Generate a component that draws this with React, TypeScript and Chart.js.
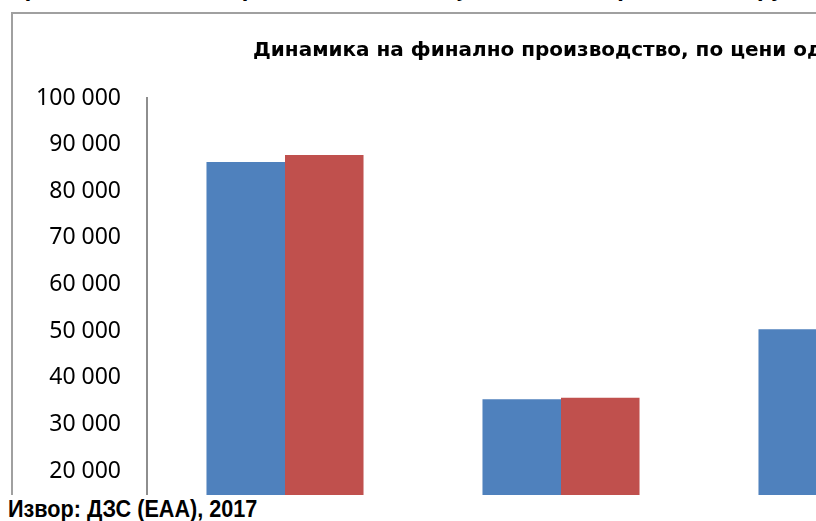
import React, { useEffect, useRef } from "react";
import { Chart, registerables } from "chart.js";

Chart.register(...registerables);

// ---- data ----
const categories = ["Вкупно", "Сточарство", "Растително производство"];
const seriesLabels = ["2015", "2016"];
const seriesA = [86300, 35400, 50400];
const seriesB = [87800, 35700, 52100];
const yMin = 0;
const yMax = 100000;
const yStep = 10000;
const titleText = "Динамика на финално производство, по цени од претходната година (милиони денари)";
const sourceText = "Извор: ДЗС (ЕАА), 2017";
const topLineText = "Графикон 2: Финално производство во земјоделството, вредност по групи, споредба";

const fmt = (v: number) => String(v).replace(/\B(?=(\d{3})+(?!\d))/g, " ");

export default function App() {
  const ref = useRef<HTMLCanvasElement | null>(null);

  useEffect(() => {
    if (!ref.current) return;
    const chart = new Chart(ref.current, {
      type: "bar",
      data: {
        labels: categories,
        datasets: [
          {
            label: seriesLabels[0],
            data: seriesA,
            backgroundColor: "#4F81BD",
            categoryPercentage: 0.569,
            barPercentage: 1,
          },
          {
            label: seriesLabels[1],
            data: seriesB,
            backgroundColor: "#C0504D",
            categoryPercentage: 0.569,
            barPercentage: 1,
          },
        ],
      },
      options: {
        responsive: false,
        animation: false,
        layout: { padding: { top: 98, bottom: 135.75, left: 7, right: 425 } },
        plugins: { legend: { display: false }, title: { display: false }, tooltip: { enabled: false } },
        scales: {
          x: { display: false },
          y: {
            min: yMin,
            max: yMax,
            ticks: {
              stepSize: yStep,
              padding: 26,
              color: "#000",
              font: { family: "'Noto Sans'", size: 23 },
              callback: (v: any) => fmt(Number(v)),
            },
            grid: { display: false, drawTicks: false },
            border: { display: true, color: "#8e8e8e", width: 2 },
            afterFit: (s: any) => {
              s.width = 140;
            },
          },
        },
      },
    });
    return () => chart.destroy();
  }, []);

  return (
    <div style={{ position: "fixed", left: 0, top: 0, width: 816, height: 521, overflow: "hidden", background: "#fff" }}>
      <div
        style={{
          position: "absolute",
          left: -20,
          top: -19,
          whiteSpace: "nowrap",
          fontFamily: "'DejaVu Sans'",
          fontWeight: 700,
          fontSize: 19,
          lineHeight: 1,
          color: "#000",
        }}
      >
        {topLineText}
      </div>
      <div
        style={{
          position: "absolute",
          left: 11,
          top: 12,
          width: 1400,
          height: 700,
          border: "2px solid #a0a0a0",
          boxSizing: "border-box",
        }}
      />
      <canvas ref={ref} width={1400} height={700} style={{ position: "absolute", left: 0, top: 0, width: 1400, height: 700 }} />
      <div
        style={{
          position: "absolute",
          left: 253,
          top: 39,
          whiteSpace: "nowrap",
          fontFamily: "'DejaVu Sans'",
          fontWeight: 700,
          fontSize: 20,
          lineHeight: 1,
          color: "#000",
        }}
      >
        {titleText}
      </div>
      <div
        style={{
          position: "absolute",
          left: 0,
          top: 495,
          width: 816,
          height: 26,
          background: "#fff",
        }}
      >
        <div
          style={{
            position: "absolute",
            left: 8,
            top: 3,
            whiteSpace: "nowrap",
            fontFamily: "'Liberation Sans', Arial",
            fontWeight: 700,
            fontSize: 23,
            lineHeight: 1,
            color: "#000",
            transform: "scaleX(0.94)",
            transformOrigin: "0 0",
          }}
        >
          {sourceText}
        </div>
      </div>
    </div>
  );
}
